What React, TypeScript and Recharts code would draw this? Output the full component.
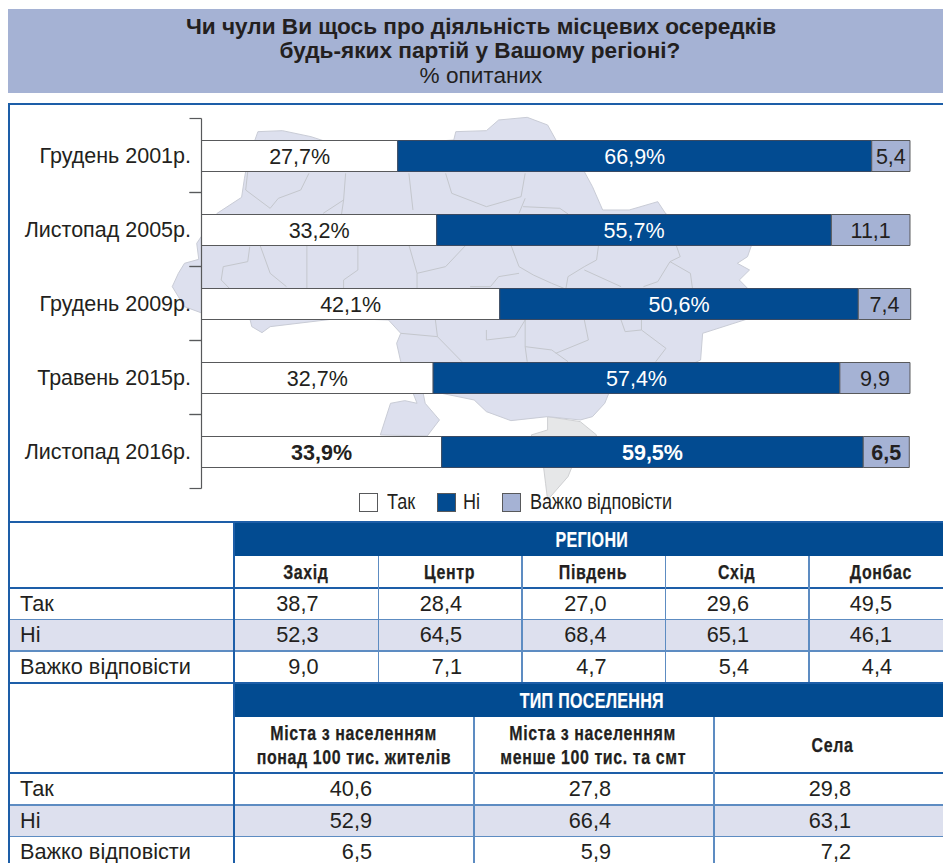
import { BarChart, Bar, XAxis, YAxis, Legend, LabelList } from "recharts";

const periods = ["Грудень 2001р.", "Листопад 2005р.", "Грудень 2009р.", "Травень 2015р.", "Листопад 2016р."];
const yesValues = [27.7, 33.2, 42.1, 32.7, 33.9];
const noValues = [66.9, 55.7, 50.6, 57.4, 59.5];
const hardValues = [5.4, 11.1, 7.4, 9.9, 6.5];

const rowNames = ["Так", "Ні", "Важко відповісти"];
const regionNames = ["Захід", "Центр", "Південь", "Схід", "Донбас"];
const regionRows = [
  ["38,7", "28,4", "27,0", "29,6", "49,5"],
  ["52,3", "64,5", "68,4", "65,1", "46,1"],
  ["9,0", "7,1", "4,7", "5,4", "4,4"],
];
const settlementNames = [
  ["Міста з населенням", "понад 100 тис. жителів"],
  ["Міста з населенням", "менше 100 тис. та смт"],
  ["Села"],
];
const settlementRows = [
  ["40,6", "27,8", "29,8"],
  ["52,9", "66,4", "63,1"],
  ["6,5", "5,9", "7,2"],
];

const chartData = periods.map((period, i) => ({
  period,
  yes: yesValues[i],
  no: noValues[i],
  hard: hardValues[i],
}));

const BLUE = "#024b91";
const LIGHT = "#a5b2d4";
const PALE = "#dde0ee";
const INK = "#231f20";
const LINE = "#1d5ea8";
const SOFT_LINE = "#5d8cc2";
const SANS = "'Liberation Sans', Arial, sans-serif";

const legendColors: Record<string, string> = { Так: "#ffffff", Ні: BLUE, "Важко відповісти": LIGHT };
const legendLefts = [0, 78, 143];

// map, in zoom-crop coordinates
const mapOutline =
  "M30,530 L45,490 L60,460 L95,448 L90,400 L140,310 L200,262 L207,205 L215,150 L240,65 L300,62 L370,80 L420,100 L600,100 L720,90 L725,65 L800,62 L830,30 L900,22 L950,45 L975,100 L1040,185 L1060,230 L1085,300 L1150,300 L1220,275 L1240,312 L1450,405 L1440,440 L1415,460 L1445,480 L1420,510 L1440,535 L1445,625 L1330,670 L1325,750 L1290,770 L1100,850 L1090,880 L1060,920 L1030,930 L950,920 L860,932 L800,905 L770,870 L690,850 L645,850 L650,880 L685,930 L655,978 L540,975 L565,880 L600,872 L630,880 L590,755 L580,700 L590,670 L560,630 L440,625 L270,650 L250,668 L225,650 L220,625 L100,608 L60,590 Z";
const crimea =
  "M950,920 L1030,935 L1070,975 L1040,1050 L1010,1070 L1000,1100 L950,1170 L945,1120 L940,1070 L910,975 L950,960 Z";
const mapBorders = [
  "M215,185 L210,240 L270,295 L290,265 L345,240 L365,190",
  "M455,190 L450,270 L400,310",
  "M450,270 L445,312",
  "M610,190 L620,300",
  "M700,190 L715,250 L800,290 L885,260 L895,190",
  "M895,265 L880,310",
  "M890,290 L980,295 L1000,312",
  "M245,405 L270,490 L310,530",
  "M220,410 L215,455 L155,470 L150,510 L170,535",
  "M360,405 L360,535",
  "M485,405 L485,480 L450,510 L450,535",
  "M610,405 L630,490 L630,535",
  "M630,490 L700,470 L750,405",
  "M860,405 L880,470 L915,495 L960,520 L990,535",
  "M1075,405 L1070,450 L1040,470 L1000,500 L995,535",
  "M1265,405 L1275,440 L1250,455 L1220,515 L1185,530",
  "M1250,455 L1300,490 L1305,535",
  "M1040,480 L1130,530",
  "M880,490 L830,500 L810,530 L760,530",
  "M675,630 L680,680 L740,755",
  "M590,670 L680,680",
  "M800,660 L800,690 L870,680 L895,630",
  "M895,630 L895,710 L900,755",
  "M895,710 L960,720 L1000,755",
  "M1040,630 L1050,690 L970,730",
  "M1130,630 L1140,665 L1180,660 L1240,715 L1215,755",
  "M1180,660 L1180,630",
];

function MapBackdrop() {
  return (
    <svg width={943} height={520} style={{ position: "absolute", left: 0, top: 0 }}>
      <g transform="translate(160,110) scale(0.408,0.3333)">
        <path d={crimea} fill="#e6e7e8" stroke="#cfd0d2" strokeWidth={1} vectorEffect="non-scaling-stroke" />
        <path d={mapOutline} fill={PALE} stroke="#c9ccd6" strokeWidth={1} vectorEffect="non-scaling-stroke" />
        {mapBorders.map((d) => (
          <path key={d} d={d} fill="none" stroke="#c4c7cd" strokeWidth={1} vectorEffect="non-scaling-stroke" />
        ))}
      </g>
    </svg>
  );
}

function PeriodTick({ x, y, payload }: any) {
  return (
    <g>
      <line x1={x - 12} x2={x} y1={y - 37} y2={y - 37} stroke="#58595b" strokeWidth={1.2} />
      <line x1={x - 12} x2={x} y1={y + 37} y2={y + 37} stroke="#58595b" strokeWidth={1.2} />
      <text x={x - 10.5} y={y + 7.5} textAnchor="end" fontFamily={SANS} fontSize={21.5} fill={INK}>
        {payload.value}
      </text>
    </g>
  );
}

function segmentLabel(color: string, suffix: string) {
  return ({ x, y, width, height, value, index }: any) => (
    <text
      x={x + width / 2}
      y={y + height / 2 + 7.5}
      textAnchor="middle"
      fontFamily={SANS}
      fontSize={21.5}
      fontWeight={index === 4 ? 700 : 400}
      fill={color}
    >
      {String(value).replace(".", ",") + suffix}
    </text>
  );
}

// the source uses a condensed face, which is not installed here
function Narrow({ children, origin, scale, style }: any) {
  return (
    <span
      style={{
        display: "inline-block",
        whiteSpace: "nowrap",
        transform: `scaleX(${scale})`,
        transformOrigin: origin,
        ...style,
      }}
    >
      {children}
    </span>
  );
}

function ChartLegend({ payload }: any) {
  const items = rowNames.filter((n) => (payload || []).some((p: any) => p.value === n));
  return (
    <div style={{ position: "relative", height: 22 }}>
      {items.map((name, i) => (
        <div key={name} style={{ position: "absolute", left: legendLefts[i], top: 0, display: "flex", alignItems: "center", height: 22 }}>
          <span
            style={{
              flex: "none",
              width: 19,
              height: 19,
              boxSizing: "border-box",
              border: "1px solid #58595b",
              background: legendColors[name],
              marginRight: i === 1 ? 7 : 9,
            }}
          />
          <Narrow origin="left center" scale={0.82} style={{ fontFamily: SANS, fontSize: 22, color: INK }}>
            {name}
          </Narrow>
        </div>
      ))}
    </div>
  );
}

function Box({ left, top, width, height, background, children, style }: any) {
  return (
    <div
      style={{
        position: "absolute",
        left,
        top,
        width,
        height,
        background,
        display: "flex",
        alignItems: "center",
        ...style,
      }}
    >
      {children}
    </div>
  );
}

function DataTable({ top, headTop, headH, subH, title, edges, pads, heads, rows, rowTops, rowH }: any) {
  const subTop = headTop + headH;
  return (
    <>
      <Box left={233} top={headTop} width={710} height={headH} background={BLUE} style={{ justifyContent: "center" }}>
        <Narrow
          origin="center"
          scale={0.73}
          style={{
            marginLeft: 8,
            marginTop: 1.5,
            color: "#fff",
            fontFamily: SANS,
            fontWeight: 700,
            fontSize: 22,
            letterSpacing: 0.4,
            WebkitTextStroke: "0.2px #fff",
          }}
        >
          {title}
        </Narrow>
      </Box>
      {heads.map((lines: string[], c: number) => (
        <Box
          key={c}
          left={edges[c]}
          top={subTop}
          // last column runs off the page in the source, so its text sits further right
          width={edges[c + 1] - edges[c] + (c === heads.length - 1 ? 10 : 0)}
          height={subH}
          style={{
            justifyContent: "center",
            flexDirection: "column",
            paddingTop: 1.5,
            boxSizing: "border-box",
            fontFamily: SANS,
            fontWeight: 700,
            fontSize: 21,
            lineHeight: "24px",
            letterSpacing: 0.8,
            color: INK,
            WebkitTextStroke: "0.25px " + INK,
          }}
        >
          {lines.map((line) => (
            <Narrow key={line} origin="center" scale={0.76}>
              {line}
            </Narrow>
          ))}
        </Box>
      ))}
      {rows.map((row: string[], r: number) => (
        <div key={r}>
          <Box left={9} top={rowTops[r]} width={934} height={rowH[r]} background={r === 1 ? PALE : "#fff"} />
          <Box left={20} top={rowTops[r]} width={210} height={rowH[r]} style={{ fontFamily: SANS, fontSize: 21.7, color: INK }}>
            {rowNames[r]}
          </Box>
          {row.map((cell, c) => (
            <Box
              key={c}
              left={edges[c]}
              top={rowTops[r]}
              width={edges[c + 1] - edges[c] - pads[c]}
              height={rowH[r]}
              style={{ justifyContent: "flex-end", fontFamily: SANS, fontSize: 21.7, color: INK }}
            >
              {cell}
            </Box>
          ))}
          <Box left={8} top={rowTops[r] + rowH[r]} width={935} height={1.5} background={r === 2 ? LINE : SOFT_LINE} />
        </div>
      ))}
      {/* rules between columns */}
      <Box left={8} top={top} width={935} height={2} background={LINE} />
      <Box left={8} top={rowTops[0] - 2.5} width={935} height={2.5} background={LINE} />
      <Box left={232.5} top={top} width={2.5} height={rowTops[2] + rowH[2] - top} background={LINE} />
      <Box left={8} top={top} width={1.5} height={rowTops[2] + rowH[2] - top} background={LINE} />
      {edges.slice(1, -1).map((e: number) => (
        <Box key={e} left={e} top={subTop} width={1.5} height={rowTops[2] + rowH[2] - subTop} background={SOFT_LINE} />
      ))}
    </>
  );
}

export default function App() {
  return (
    <div style={{ position: "relative", width: 943, height: 863, overflow: "hidden", background: "#fff" }}>
      <style>{"body{margin:0}"}</style>

      <div
        style={{
          position: "absolute",
          left: 8,
          top: 9,
          width: 935,
          height: 84,
          background: LIGHT,
          textAlign: "center",
          color: INK,
          fontFamily: SANS,
          fontSize: 22.6,
          lineHeight: "24.5px",
        }}
      >
        <div style={{ paddingTop: 5.5, fontWeight: 700, marginLeft: 11 }}>Чи чули Ви щось про діяльність місцевих осередків</div>
        <div style={{ fontWeight: 700, marginLeft: 9 }}>будь-яких партій у Вашому регіоні?</div>
        <div style={{ marginLeft: 11 }}>% опитаних</div>
      </div>

      {/* chart frame */}
      <div style={{ position: "absolute", left: 8, top: 103, width: 935, height: 2, background: LINE }} />
      <div style={{ position: "absolute", left: 8, top: 103, width: 1.5, height: 419, background: LINE }} />

      <MapBackdrop />

      <div style={{ position: "absolute", left: 0, top: 0 }}>
        <BarChart
          width={943}
          height={520}
          data={chartData}
          layout="vertical"
          margin={{ top: 118.5, right: 32.3, bottom: 31.5, left: 11.5 }}
        >
          <XAxis type="number" domain={[0, 100.1]} hide />
          <YAxis
            type="category"
            dataKey="period"
            width={190}
            interval={0}
            tickLine={false}
            tickSize={0}
            tickMargin={0}
            tick={PeriodTick}
            axisLine={{ stroke: "#58595b", strokeWidth: 1.2 }}
          />
          <Legend
            layout="horizontal"
            align="center"
            verticalAlign="middle"
            content={ChartLegend}
            wrapperStyle={{ left: 359, top: 491, width: 340 }}
          />
          <Bar dataKey="yes" name="Так" stackId="a" fill="#ffffff" stroke="#58595b" barSize={31} isAnimationActive={false}>
            <LabelList dataKey="yes" content={segmentLabel(INK, "%")} />
          </Bar>
          <Bar dataKey="no" name="Ні" stackId="a" fill={BLUE} stroke="#3a4a63" barSize={31} isAnimationActive={false}>
            <LabelList dataKey="no" content={segmentLabel("#ffffff", "%")} />
          </Bar>
          <Bar dataKey="hard" name="Важко відповісти" stackId="a" fill={LIGHT} stroke="#58595b" barSize={31} isAnimationActive={false}>
            <LabelList dataKey="hard" content={segmentLabel(INK, "")} />
          </Bar>
        </BarChart>
      </div>

      <DataTable
        top={521}
        headTop={522}
        headH={34}
        subH={30.5}
        title="РЕГІОНИ"
        edges={[235, 377.5, 521, 664.5, 808, 943]}
        pads={[59, 59, 58, 59, 51]}
        heads={regionNames.map((n) => [n])}
        rows={regionRows}
        rowTops={[589, 620, 651.5]}
        rowH={[30, 30, 30.5]}
      />
      <DataTable
        top={682}
        headTop={684}
        headH={33}
        subH={55}
        title="ТИП ПОСЕЛЕННЯ"
        edges={[235, 473, 713, 943]}
        pads={[101, 102, 92]}
        heads={settlementNames}
        rows={settlementRows}
        rowTops={[774, 805.5, 837]}
        rowH={[30, 30, 30]}
      />
    </div>
  );
}
